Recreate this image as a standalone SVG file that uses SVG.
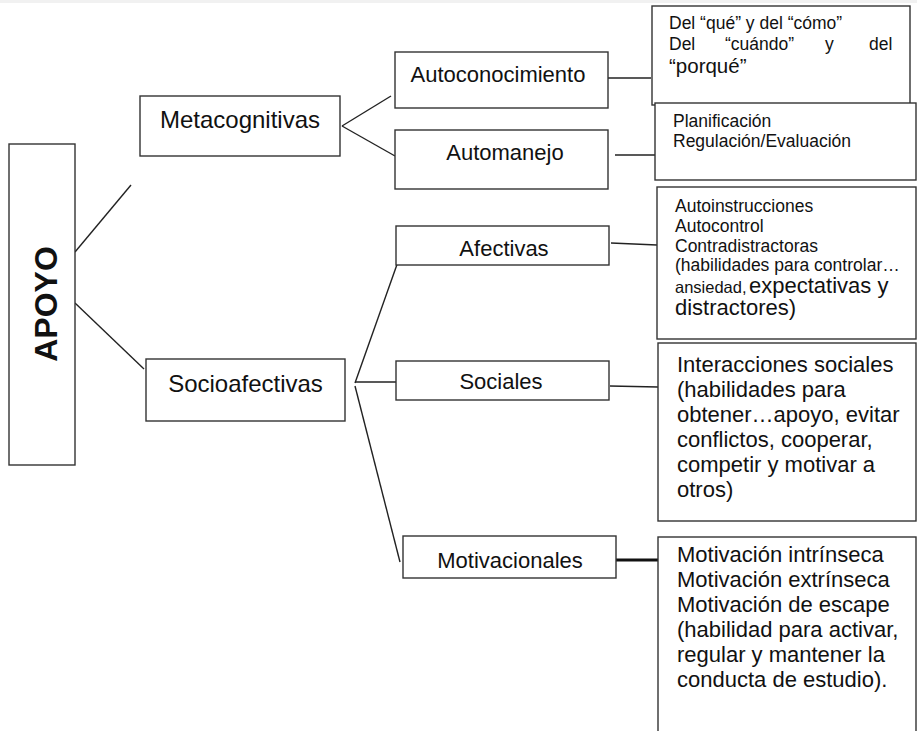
<svg xmlns="http://www.w3.org/2000/svg" width="917" height="731" viewBox="0 0 917 731">
  <style>
    .box { fill: #ffffff; stroke: #333333; stroke-width: 1.4; }
    .wire { fill: none; stroke: #222222; stroke-width: 1.4; }
    .wire-bold { fill: none; stroke: #111111; stroke-width: 3; }
    text { font-family: "Liberation Sans", Arial, Helvetica, sans-serif; fill: #111111; }
    .lbl { font-size: 22px; text-anchor: middle; }
    .lbl-lg { font-size: 24px; text-anchor: middle; }
    .title { font-size: 32px; font-weight: bold; text-anchor: middle; }
    .note { font-size: 17.5px; }
    .note-lg { font-size: 22px; }
  </style>

  <rect x="0" y="0" width="917" height="731" fill="#ffffff"/>
  <rect x="0" y="0" width="917" height="3" fill="#f1f1f1"/>

  <!-- connectors -->
  <g id="connectors">
    <line class="wire" x1="75" y1="252" x2="131" y2="185"/>
    <line class="wire" x1="75" y1="303" x2="144" y2="369"/>
    <line class="wire" x1="342" y1="126" x2="391" y2="96"/>
    <line class="wire" x1="342" y1="126" x2="395" y2="156"/>
    <line class="wire" x1="608" y1="78" x2="651" y2="78"/>
    <line class="wire" x1="615" y1="155" x2="655" y2="155"/>
    <line class="wire" x1="355" y1="383" x2="400" y2="256"/>
    <line class="wire" x1="355" y1="382" x2="396" y2="382"/>
    <line class="wire" x1="355" y1="386" x2="400" y2="562"/>
    <line class="wire" x1="611" y1="243" x2="657" y2="245"/>
    <line class="wire" x1="610" y1="386" x2="658" y2="387"/>
    <line class="wire-bold" x1="616" y1="560" x2="658" y2="560"/>
  </g>

  <!-- root -->
  <g id="apoyo">
    <rect class="box" x="9" y="144" width="66" height="321"/>
    <text class="title" transform="translate(57,304) rotate(-90)">APOYO</text>
  </g>

  <!-- first level -->
  <g id="metacognitivas">
    <rect class="box" x="140" y="96" width="200" height="60"/>
    <text class="lbl-lg" x="240" y="128">Metacognitivas</text>
  </g>
  <g id="socioafectivas">
    <rect class="box" x="146" y="359" width="199" height="62"/>
    <text class="lbl-lg" x="245.5" y="392">Socioafectivas</text>
  </g>

  <!-- second level -->
  <g id="autoconocimiento">
    <rect class="box" x="395" y="52" width="213" height="56"/>
    <text class="lbl" x="498" y="82">Autoconocimiento</text>
  </g>
  <g id="automanejo">
    <rect class="box" x="395" y="130" width="213" height="59"/>
    <text class="lbl" x="505" y="160">Automanejo</text>
  </g>
  <g id="afectivas">
    <rect class="box" x="396" y="226" width="213" height="39"/>
    <text class="lbl" x="504" y="256">Afectivas</text>
  </g>
  <g id="sociales">
    <rect class="box" x="396" y="361" width="213" height="39"/>
    <text class="lbl" x="501" y="389">Sociales</text>
  </g>
  <g id="motivacionales">
    <rect class="box" x="403" y="536" width="213" height="42"/>
    <text class="lbl" x="510" y="568">Motivacionales</text>
  </g>

  <!-- detail boxes -->
  <g id="detalle-autoconocimiento">
    <rect class="box" x="652" y="6" width="258" height="99"/>
    <text class="note" x="669" y="29">Del “qué” y del “cómo”</text>
    <text class="note" y="50"><tspan x="669">Del</tspan><tspan x="725">“cuándo”</tspan><tspan x="825">y</tspan><tspan x="869">del</tspan></text>
    <text x="669" y="73" font-size="20.5">“porqué”</text>
  </g>
  <g id="detalle-automanejo">
    <rect class="box" x="655" y="103" width="261" height="77"/>
    <text class="note" x="673" y="127">Planificación</text>
    <text class="note" x="673" y="147">Regulación/Evaluación</text>
  </g>
  <g id="detalle-afectivas">
    <rect class="box" x="657" y="187" width="259" height="152"/>
    <text class="note" x="675" y="212">Autoinstrucciones</text>
    <text class="note" x="675" y="232">Autocontrol</text>
    <text class="note" x="675" y="252">Contradistractoras</text>
    <text class="note" x="675" y="271">(habilidades para controlar…</text>
    <text y="293"><tspan x="675" font-size="16.5">ansiedad,</tspan><tspan x="749" font-size="22">expectativas y</tspan></text>
    <text class="note-lg" x="675" y="315">distractores)</text>
  </g>
  <g id="detalle-sociales">
    <rect class="box" x="658" y="343" width="258" height="178"/>
    <text class="note-lg" x="677" y="372">Interacciones sociales</text>
    <text class="note-lg" x="677" y="397">(habilidades para</text>
    <text class="note-lg" x="677" y="422">obtener…apoyo, evitar</text>
    <text class="note-lg" x="677" y="447">conflictos, cooperar,</text>
    <text class="note-lg" x="677" y="472">competir y motivar a</text>
    <text class="note-lg" x="677" y="497">otros)</text>
  </g>
  <g id="detalle-motivacionales">
    <rect class="box" x="658" y="537" width="258" height="200"/>
    <text class="note-lg" x="677" y="562">Motivación intrínseca</text>
    <text class="note-lg" x="677" y="587">Motivación extrínseca</text>
    <text class="note-lg" x="677" y="612">Motivación de escape</text>
    <text class="note-lg" x="677" y="637">(habilidad para activar,</text>
    <text class="note-lg" x="677" y="662">regular y mantener la</text>
    <text class="note-lg" x="677" y="687">conducta de estudio).</text>
  </g>
</svg>
